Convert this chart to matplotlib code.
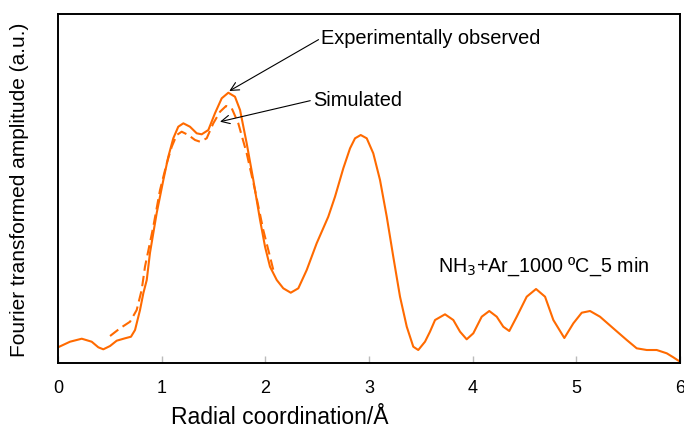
import matplotlib
matplotlib.use('Agg')
import matplotlib.pyplot as plt

# experimentally observed FT amplitude (solid)
r_exp = [0.00, 0.116, 0.229, 0.325, 0.389, 0.437, 0.502, 0.566, 0.646, 0.704,
         0.743, 0.791, 0.823, 0.856, 0.887, 0.952, 1.016, 1.064, 1.112, 1.160,
         1.209, 1.273, 1.338, 1.386, 1.450, 1.514, 1.579, 1.643, 1.707, 1.756,
         1.820, 1.884, 1.949, 1.997, 2.045, 2.110, 2.173, 2.245, 2.318, 2.399,
         2.495, 2.607, 2.672, 2.752, 2.817, 2.865, 2.920, 2.978, 3.041, 3.106,
         3.171, 3.234, 3.299, 3.364, 3.427, 3.475, 3.540, 3.588, 3.637, 3.733,
         3.813, 3.878, 3.942, 4.006, 4.087, 4.160, 4.232, 4.295, 4.353, 4.425,
         4.521, 4.611, 4.698, 4.778, 4.884, 4.971, 5.052, 5.132, 5.228, 5.356,
         5.486, 5.582, 5.679, 5.775, 5.872, 5.935, 6.000]
amp_exp = [0.157, 0.213, 0.243, 0.213, 0.157, 0.137, 0.170, 0.223, 0.247, 0.263,
           0.330, 0.530, 0.697, 0.830, 1.100, 1.500, 1.830, 2.063, 2.247, 2.363,
           2.397, 2.363, 2.297, 2.287, 2.330, 2.497, 2.647, 2.703, 2.663, 2.530,
           2.197, 1.830, 1.430, 1.163, 0.963, 0.830, 0.747, 0.703, 0.747, 0.930,
           1.197, 1.463, 1.663, 1.947, 2.147, 2.247, 2.280, 2.247, 2.097, 1.830,
           1.463, 1.063, 0.663, 0.363, 0.163, 0.130, 0.213, 0.313, 0.430, 0.487,
           0.430, 0.313, 0.237, 0.297, 0.463, 0.520, 0.463, 0.363, 0.320, 0.463,
           0.663, 0.740, 0.663, 0.430, 0.250, 0.397, 0.503, 0.520, 0.463, 0.347,
           0.230, 0.147, 0.130, 0.130, 0.097, 0.057, 0.013]

# simulated fit (dashed)
r_sim = [0.502, 0.598, 0.695, 0.759, 0.807, 0.839, 0.919, 0.984, 1.049, 1.097,
         1.145, 1.193, 1.257, 1.322, 1.370, 1.434, 1.498, 1.563, 1.621, 1.676,
         1.739, 1.820, 1.900, 1.980, 2.045, 2.077]
amp_sim = [0.270, 0.347, 0.413, 0.530, 0.730, 0.963, 1.363, 1.730, 1.997, 2.163,
           2.280, 2.313, 2.280, 2.230, 2.213, 2.247, 2.397, 2.513, 2.570, 2.547,
           2.397, 2.097, 1.730, 1.330, 1.063, 0.930]

x_ticks = [0, 1, 2, 3, 4, 5, 6]

orange = '#FF6A00'
plt.rcParams['font.family'] = ['Liberation Sans', 'DejaVu Sans']

fig = plt.figure(figsize=(6.84, 4.30), dpi=100)
ax = fig.add_axes([0.0848, 0.1558, 0.9094, 0.8116])

ax.plot(r_exp, amp_exp, color=orange, lw=1.5, solid_joinstyle='round')
ax.plot(r_sim, amp_sim, color=orange, lw=1.5, dashes=(5, 2.5))

ax.set_xlim(0, 6)
ax.set_ylim(0, 3.49)
ax.set_xticks(x_ticks)
ax.set_xticklabels([str(t) for t in x_ticks], fontsize=13)
ax.set_yticks([])
ax.tick_params(axis='x', direction='in', length=5, width=1, color='#bbbbbb', pad=12)
for s in ax.spines.values():
    s.set_linewidth(1.4)

arrow = dict(arrowstyle='->', color='black', lw=0.8, relpos=(0, 0.5),
             shrinkA=0, shrinkB=0, mutation_scale=15)
ax.annotate('Experimentally observed', xy=(1.652, 2.72), xytext=(2.54, 3.25),
            fontsize=14.4, ha='left', va='center', arrowprops=arrow)
ax.annotate('Simulated', xy=(1.563, 2.413), xytext=(2.46, 2.63),
            fontsize=14.4, ha='left', va='center', arrowprops=arrow)
ax.text(3.67, 0.96, 'NH$_3$+Ar_1000 ºC_5 min', fontsize=14.2, ha='left', va='center')

fig.text(279.5 / 684, 1 - 418 / 430, 'Radial coordination/Å',
         fontsize=16.5, ha='center', va='center')
fig.text(20 / 684, 1 - 189.5 / 430, 'Fourier transformed amplitude (a.u.)',
         fontsize=15, rotation=90, ha='center', va='center')

fig.savefig('out.png', dpi=100)
